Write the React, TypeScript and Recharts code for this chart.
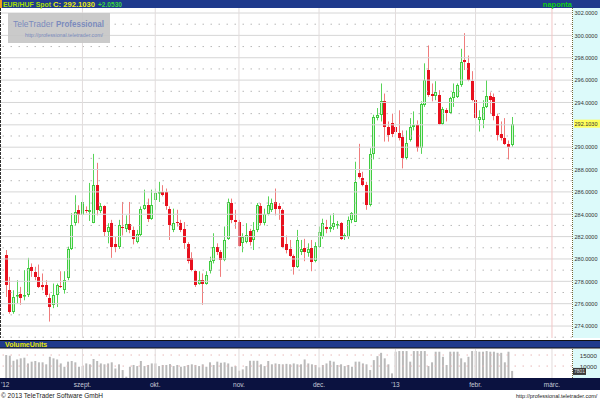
import { Bar, ComposedChart, ReferenceLine, XAxis, YAxis } from 'recharts'

// EUR/HUF daily candles, Aug 2012 - Feb 2013
const opens = [
  280.35, 277.2, 275.3, 276.7, 276.9, 276.7, 276.8, 279.3, 278.8, 278.4,
  277.7, 277.7, 276.5, 275.9, 276.8, 277.6, 277.2, 278.3, 280.9, 283.2,
  284.4, 283.9, 284.4, 284.2, 283.2, 286.6, 284.3, 284.7, 282.4, 283.2,
  281.3, 281.1, 282.9, 282.7, 283.1, 282.6, 281.5, 282.1, 284.5, 284.8,
  283.6, 285.3, 285.9, 286.0, 286.0, 284.5, 282.6, 283.3, 283.2, 282.7,
  281.3, 280.1, 278.9, 277.8, 278.1, 277.8, 278.9, 279.8, 281.1, 280.6,
  279.9, 281.8, 285.0, 283.5, 283.3, 281.4, 281.5, 282.5, 281.7, 282.6,
  284.7, 283.2, 284.0, 284.4, 285.1, 284.7, 284.4, 281.3, 280.9, 280.3,
  279.3, 280.6, 281.0, 280.5, 281.0, 279.8, 281.1, 282.0, 282.9, 282.7,
  282.9, 283.0, 283.2, 282.0, 282.0, 283.5, 283.3, 287.7, 287.2, 286.6,
  284.8, 289.4, 292.6, 292.9, 294.1, 291.8, 292.2, 291.8, 291.3, 290.9,
  289.0, 290.6, 291.8, 292.0, 289.9, 293.8, 296.9, 294.8, 294.6, 294.7,
  292.1, 293.3, 293.1, 294.4, 294.5, 295.6, 297.8, 297.5, 295.9, 294.2,
  292.4, 292.4, 293.6, 294.6, 294.5, 292.8, 291.2, 290.8, 290.3, 290.2,
]
const highs = [
  280.8, 278.4, 277.2, 278.1, 277.5, 279.0, 280.1, 279.6, 279.3, 279.5,
  278.7, 278.1, 276.9, 277.8, 277.8, 278.9, 278.9, 281.1, 284.1, 285.7,
  284.8, 285.4, 284.7, 286.8, 289.4, 288.6, 285.0, 284.8, 283.2, 283.5,
  282.0, 283.5, 285.1, 283.9, 285.1, 282.9, 282.6, 284.7, 286.2, 285.4,
  286.2, 286.3, 286.9, 286.6, 286.3, 284.7, 284.5, 284.4, 283.5, 283.3,
  281.5, 280.6, 279.0, 278.9, 278.7, 278.9, 280.2, 282.3, 281.4, 280.8,
  282.9, 285.4, 285.4, 284.4, 283.5, 282.3, 283.2, 282.7, 283.3, 285.0,
  285.0, 284.5, 285.6, 285.4, 286.3, 285.0, 284.5, 282.1, 281.7, 280.4,
  282.6, 281.7, 281.8, 281.4, 281.7, 281.5, 282.9, 283.6, 283.5, 283.9,
  284.1, 283.4, 283.3, 282.3, 283.8, 284.2, 288.7, 290.3, 287.8, 286.9,
  289.9, 292.9, 293.5, 295.7, 294.8, 292.3, 293.0, 292.3, 293.3, 291.5,
  291.5, 292.6, 293.2, 292.4, 294.1, 297.5, 299.1, 295.7, 295.9, 295.1,
  293.6, 293.5, 294.5, 295.7, 295.7, 298.8, 300.2, 298.2, 296.8, 294.5,
  293.3, 294.2, 296.0, 294.9, 294.8, 293.0, 292.3, 292.6, 290.6, 292.7,
]
const lows = [
  276.6, 275.1, 275.1, 276.0, 275.9, 276.3, 276.6, 278.4, 278.1, 277.4,
  277.2, 276.6, 274.4, 275.6, 275.7, 277.4, 276.9, 278.1, 280.8, 283.0,
  283.2, 283.8, 284.1, 283.4, 283.2, 283.9, 284.1, 282.0, 281.4, 280.1,
  280.6, 280.9, 282.1, 282.4, 282.3, 281.3, 281.4, 282.0, 284.4, 283.3,
  283.5, 284.4, 285.1, 285.6, 284.4, 281.7, 282.4, 282.9, 282.4, 280.9,
  279.6, 278.9, 277.5, 277.7, 275.9, 277.7, 278.7, 279.6, 280.35, 278.4,
  279.8, 281.7, 283.2, 282.7, 281.1, 280.6, 281.4, 281.2, 280.8, 282.4,
  283.0, 283.0, 283.9, 284.2, 283.9, 283.5, 281.0, 280.5, 280.2, 278.6,
  279.2, 280.35, 279.8, 280.2, 278.9, 279.7, 281.0, 281.8, 282.3, 282.4,
  282.6, 282.7, 281.7, 281.7, 281.8, 283.2, 283.3, 287.2, 286.5, 284.4,
  284.7, 288.9, 292.4, 292.3, 290.5, 290.5, 290.9, 291.1, 290.6, 288.1,
  288.9, 290.5, 291.5, 289.6, 289.4, 293.6, 294.5, 294.1, 294.2, 292.0,
  292.0, 292.3, 293.0, 293.6, 294.4, 295.4, 296.9, 295.9, 294.1, 292.4,
  291.4, 291.7, 293.5, 293.0, 292.4, 290.6, 290.6, 290.2, 288.9, 290.05,
]
const closes = [
  277.67, 275.3, 276.6, 276.8, 276.5, 276.8, 279.2, 278.9, 278.4, 277.5,
  277.5, 276.8, 275.7, 276.8, 277.7, 277.5, 278.1, 280.9, 283.0, 284.2,
  283.9, 285.1, 284.3, 284.4, 286.6, 284.4, 284.7, 282.4, 282.9, 281.1,
  281.1, 283.0, 282.8, 283.1, 282.6, 281.8, 282.2, 284.5, 284.8, 283.6,
  284.8, 285.9, 286.0, 285.7, 284.7, 283.0, 283.2, 283.2, 282.6, 281.4,
  279.8, 279.0, 277.7, 278.1, 277.8, 278.6, 279.8, 281.1, 280.6, 279.9,
  281.7, 285.1, 283.5, 283.3, 281.2, 282.0, 282.1, 281.5, 282.6, 284.8,
  283.2, 284.0, 284.8, 285.0, 284.5, 284.5, 281.1, 280.8, 280.3, 279.3,
  281.7, 280.9, 280.6, 280.9, 279.7, 281.2, 282.4, 283.2, 282.7, 282.9,
  283.2, 283.1, 281.8, 282.1, 283.5, 284.1, 286.9, 287.3, 286.6, 284.8,
  289.4, 292.7, 292.9, 294.1, 291.8, 291.1, 291.2, 291.4, 290.8, 289.0,
  290.4, 291.8, 292.0, 289.9, 293.9, 296.0, 294.7, 294.6, 294.9, 292.1,
  293.4, 293.1, 294.4, 294.9, 295.6, 297.6, 297.6, 296.0, 294.2, 292.6,
  292.7, 293.6, 294.6, 294.2, 292.8, 291.1, 290.8, 290.3, 290.05, 292.103,
]
const volumes = [
  15000, 14700, 12400, 13000, 13500, 13800, 11200, 12000, 12300, 11700,
  11700, 10800, 14200, 13500, 13000, 11200, 9700, 12000, 12300, 11700,
  9700, 10000, 11200, 10800, 13200, 12300, 11200, 10800, 11200, 11700,
  8900, 10800, 8200, 5200, 9700, 10500, 10000, 12300, 10000, 10500,
  11200, 11200, 10000, 10500, 10500, 10900, 10000, 10500, 9700, 10000,
  10500, 10800, 10500, 10000, 10800, 9700, 11700, 10500, 12000, 11500,
  11700, 11200, 9700, 10000, 7900, 8500, 10000, 12400, 12400, 12400,
  10800, 10000, 12300, 10800, 11200, 10900, 10800, 11000, 10800, 11200,
  10800, 10800, 13000, 11200, 10800, 10500, 9400, 10500, 11200, 12400,
  12000, 10500, 10800, 10000, 10500, 9700, 12000, 12000, 11200, 10800,
  8200, 12700, 14500, 16000, 13500, 10800, 6700, 16500, 16800, 16800,
  16800, 12000, 16800, 16800, 16800, 16800, 10000, 11700, 16500, 16500,
  14200, 10500, 16500, 16500, 16500, 13500, 11700, 14200, 16800, 16800,
  16500, 16500, 16800, 16500, 16500, 16000, 16000, 11700, 16500, 7801,
]

const monthLabels = ["'12", 'szept.', 'okt.', 'nov.', 'dec.', "'13", 'febr.', 'márc.']
const monthStarts = [-1.65, 21, 41, 64, 86, 107, 129, 150]
const priceTicks = [274, 276, 278, 280, 282, 284, 286, 288, 290, 292, 294, 296, 298, 300, 302]
const volumeTicks = [10000, 15000]

const FONT = '"Liberation Sans", Arial, sans-serif'
const X_DOMAIN: [number, number] = [-1.65, 155.5]
const lastClose = closes[closes.length - 1]
const prevClose = closes[closes.length - 2]
const lastVolume = volumes[volumes.length - 1]

const data = opens.map((open, i) => ({
  i,
  open,
  high: highs[i],
  low: lows[i],
  close: closes[i],
  vol: volumes[i],
}))

const oddLevels = [priceTicks[0] - 1, ...priceTicks.map((t) => t + 1)]

function Candle(props: any) {
  const { x, y, width, height, payload } = props
  if (x == null || y == null) return null
  const { open, close, high, low } = payload
  const top = Math.min(y, y + height)
  const span = Math.abs(height)
  const toPx = (v: number) => (high === low ? top : top + ((high - v) / (high - low)) * span)
  const left = Math.round(x + width / 2) - 1
  const up = close >= open
  const bTop = Math.round(toPx(Math.max(open, close)))
  const bBot = Math.max(Math.round(toPx(Math.min(open, close))), bTop + 1)
  if (up) {
    return (
      <g>
        <line x1={left + 1.5} x2={left + 1.5} y1={top} y2={top + span} stroke="#58d458" strokeWidth={1} />
        <rect x={left + 0.5} y={bTop + 0.5} width={2} height={Math.max(bBot - bTop - 1, 0.5)} fill="#d6f7d6" stroke="#3fcc3f" strokeWidth={1} />
      </g>
    )
  }
  return (
    <g>
      <line x1={left + 1.5} x2={left + 1.5} y1={top} y2={top + span} stroke="#f07c7c" strokeWidth={1} />
      <rect x={left} y={bTop} width={3} height={bBot - bTop} fill="#e8101e" />
    </g>
  )
}

function PriceTick({ y, payload }: any) {
  const v = payload.value
  const label = (
    <text x={574.5} y={y + 2.3} fontSize={6.2} fill="#333" fontFamily={FONT} textLength={23} lengthAdjust="spacingAndGlyphs">
      {v.toFixed(4)}
    </text>
  )
  if (v === lastClose) {
    return (
      <g>
        <rect x={574} y={y - 4} width={26} height={8} fill="#ffff5a" />
        {label}
      </g>
    )
  }
  return label
}

function VolumeTick({ y, payload }: any) {
  const v = payload.value
  if (v === lastVolume) {
    return (
      <g>
        <rect x={573} y={y - 3} width={13} height={7} fill="#3a3a3a" />
        <text x={574} y={y + 2.5} fontSize={6} fill="#e0e0e0" fontFamily={FONT} textLength={11} lengthAdjust="spacingAndGlyphs">
          {String(v)}
        </text>
      </g>
    )
  }
  return (
    <text x={597} y={y + 2.5} fontSize={6.2} fill="#333" fontFamily={FONT} textAnchor="end">
      {String(v)}
    </text>
  )
}

function MonthTick({ x, payload, index }: any) {
  const label = monthLabels[monthStarts.indexOf(payload.value)] ?? ''
  return (
    <text x={index === 0 ? 1 : x} y={38} fontSize={6.5} fill="#c8ccd8" fontFamily={FONT} textAnchor={index === 0 ? 'start' : 'middle'}>
      {label}
    </text>
  )
}

export default function App() {
  const change = lastClose - prevClose
  return (
    <div style={{ position: 'fixed', left: 0, top: 0, width: 600, height: 400, background: '#fff', overflow: 'hidden', fontFamily: FONT }}>
      <svg width={600} height={400} style={{ position: 'absolute', left: 0, top: 0 }}>
        <rect x={0} y={0} width={600} height={8} fill="#1f3a8c" />
        <rect x={573} y={8} width={27} height={330} fill="#dcfafa" />
        <rect x={0} y={340} width={600} height={8.5} fill="#101010" />
        <rect x={0} y={341} width={600} height={6.5} fill="#1f3a8c" />
        <rect x={573} y={349} width={27} height={29} fill="#dcfafa" />
        <rect x={0} y={378} width={600} height={12} fill="#0b1240" />
      </svg>

      <div style={{ position: 'absolute', left: 0, top: 8 }}>
        <ComposedChart width={600} height={330} data={data} margin={{ top: 0, right: 0, bottom: 0, left: 0 }}>
          <XAxis dataKey="i" type="number" domain={X_DOMAIN} allowDataOverflow hide />
          <YAxis
            orientation="right"
            width={28}
            type="number"
            domain={[272.93, 302.45]}
            allowDataOverflow
            ticks={[...priceTicks, lastClose]}
            interval={0}
            axisLine={false}
            tickLine={false}
            tick={<PriceTick />}
          />
          {priceTicks.map((t) => (
            <ReferenceLine key={'h' + t} y={t} stroke="#d6d6d6" strokeWidth={1} />
          ))}
          {oddLevels.map((t) => (
            <ReferenceLine key={'o' + t} y={t} stroke="#b8b8b8" strokeWidth={1} strokeDasharray="1.5 6.5" />
          ))}
          {monthStarts.slice(1).map((m) => (
            <ReferenceLine key={'v' + m} x={m} stroke={m === 150 ? '#f2c6c6' : '#e2dcdc'} strokeWidth={1} />
          ))}
          <Bar dataKey={(d: any) => [d.low, d.high]} barSize={3} shape={<Candle />} isAnimationActive={false} />
        </ComposedChart>
      </div>

      <div style={{ position: 'absolute', left: 0, top: 349 }}>
        <ComposedChart width={600} height={41} data={data} margin={{ top: 0, right: 0, bottom: 0, left: 0 }}>
          <XAxis
            dataKey="i"
            type="number"
            domain={X_DOMAIN}
            allowDataOverflow
            ticks={monthStarts}
            interval={0}
            height={12}
            axisLine={false}
            tickLine={false}
            tick={<MonthTick />}
          />
          <YAxis
            orientation="right"
            width={28}
            type="number"
            domain={[4600, 17727]}
            allowDataOverflow
            ticks={[...volumeTicks, lastVolume]}
            interval={0}
            axisLine={false}
            tickLine={false}
            tick={<VolumeTick />}
          />
          {volumeTicks.map((t) => (
            <ReferenceLine key={'vh' + t} y={t} stroke="#e8b8b8" strokeWidth={1} strokeDasharray="1.5 6.5" />
          ))}
          {monthStarts.slice(1).map((m) => (
            <ReferenceLine key={'vv' + m} x={m} stroke="#e2dcdc" strokeWidth={1} />
          ))}
          <Bar dataKey="vol" barSize={2} fill="#bababa" isAnimationActive={false} />
        </ComposedChart>
      </div>

      <svg width={600} height={400} style={{ position: 'absolute', left: 0, top: 0, pointerEvents: 'none' }}>
        <rect x={0} y={0} width={2} height={8} fill="#f39a1e" />
        <text x={3} y={7} fontSize={7.5} fontWeight="bold" fill="#a6e000" fontFamily={FONT} textLength={48} lengthAdjust="spacingAndGlyphs">
          EUR/HUF Spot
        </text>
        <text x={53} y={7} fontSize={7.5} fontWeight="bold" fill="#ecec10" fontFamily={FONT} textLength={42} lengthAdjust="spacingAndGlyphs">
          {'C: ' + lastClose.toFixed(4)}
        </text>
        <text x={98} y={7} fontSize={7.5} fontWeight="bold" fill="#3cd83c" fontFamily={FONT} textLength={24} lengthAdjust="spacingAndGlyphs">
          {'+' + change.toFixed(4)}
        </text>
        <text x={572} y={7} fontSize={7.5} fontWeight="bold" fill="#10d010" fontFamily={FONT} textAnchor="end">
          naponta
        </text>
        <line x1={0.5} x2={0.5} y1={8} y2={338} stroke="#333" strokeWidth={1} strokeDasharray="3 1" />
        <line x1={572.5} x2={572.5} y1={8} y2={338} stroke="#6f6a3a" strokeWidth={1} strokeDasharray="1 1" />
        <line x1={572.5} x2={572.5} y1={349} y2={378} stroke="#6f6a3a" strokeWidth={1} strokeDasharray="1 1" />

        <rect x={8} y={13} width={102} height={30} fill="#c6c6c6" opacity={0.92} />
        <text x={13} y={27} fontSize={8.5} fill="#7b8bbd" fontFamily={FONT}>
          TeleTrader
        </text>
        <text x={56} y={27} fontSize={8.5} fontWeight="bold" fill="#7b8bbd" fontFamily={FONT} textLength={48} lengthAdjust="spacingAndGlyphs">
          Professional
        </text>
        <text x={25} y={37} fontSize={5.5} fill="#7b8bbd" fontFamily={FONT} textLength={78} lengthAdjust="spacingAndGlyphs">
          http://professional.teletrader.com/
        </text>

        <text x={5} y={347} fontSize={7} fontWeight="bold" fill="#e8e800" fontFamily={FONT}>
          VolumeUnits
        </text>
        <text x={1} y={398} fontSize={7} fill="#222" fontFamily={FONT} textLength={102} lengthAdjust="spacingAndGlyphs">
          © 2013 TeleTrader Software GmbH
        </text>
        <text x={516} y={398} fontSize={5.5} fill="#222" fontFamily={FONT}>
          http://professional.teletrader.com/
        </text>
      </svg>
    </div>
  )
}
